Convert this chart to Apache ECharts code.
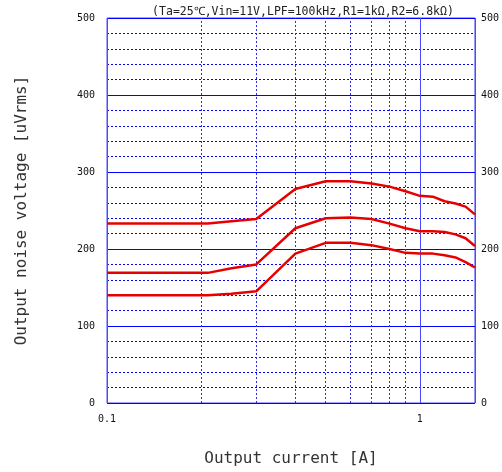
<!DOCTYPE html>
<html><head><meta charset="utf-8">
<script src="https://cdn.jsdelivr.net/npm/echarts@6/dist/echarts.min.js"></script>
<style>html,body{margin:0;padding:0;background:#fff}#c{width:502px;height:472px}</style>
</head><body><div id="c"></div>
<script>
const current = [0.1, 0.21, 0.25, 0.3, 0.4, 0.5, 0.6, 0.7, 0.8, 0.9, 1.0, 1.1, 1.2, 1.3, 1.4, 1.5];
const noiseTop = [233, 233, 236, 239, 278, 288, 288, 285, 281, 275, 269, 268, 262, 259, 255, 245];
const noiseMid = [169, 169, 175, 180, 227, 240, 241, 239, 233, 227, 223, 223, 222, 219, 214, 204];
const noiseLow = [140, 140, 142, 145, 194, 208, 208, 205, 200, 195, 194, 194, 192, 189, 183, 176];
const xMinorGrid = [0.2, 0.3, 0.4, 0.5, 0.6, 0.7, 0.8, 0.9];
const titleText = '(Ta=25℃,Vin=11V,LPF=100kHz,R1=1kΩ,R2=6.8kΩ)';

const mono = "'DejaVu Sans Mono', monospace";
const chart = echarts.init(document.getElementById('c'));
const pair = arr => current.map((x, i) => [x, arr[i]]);
const lineSeries = (arr, extra) => Object.assign({
  type: 'line', data: pair(arr), showSymbol: false, symbol: 'none', smooth: false,
  lineStyle: { color: '#e60000', width: 2.5 }, z: 5, silent: true
}, extra || {});

const yCommon = {
  type: 'value', min: 0, max: 500, interval: 100,
  axisTick: { show: false },
  axisLine: { show: false }
};
const minorStyle = { color: '#2a2aff', width: 1, type: [2, 2], opacity: 1 };

chart.setOption({
  animation: false,
  title: {
    text: titleText, left: 298, top: 1, textAlign: 'center',
    textStyle: { fontFamily: mono, fontSize: 11.5, fontWeight: 'normal', color: '#222' }
  },
  grid: { left: 107, right: 27, top: 18, bottom: 68, show: true, borderColor: '#4a4aff', borderWidth: 1 },
  xAxis: {
    type: 'log', logBase: 10, min: 0.1, max: 1.5,
    name: 'Output current [A]', nameLocation: 'middle', nameGap: 48,
    nameTextStyle: { fontFamily: mono, fontSize: 16, color: '#333' },
    axisLine: { show: false }, axisTick: { show: false },
    axisLabel: {
      fontFamily: mono, fontSize: 10, color: '#111', margin: 11,
      formatter: v => (Math.abs(v - 0.1) < 1e-6 ? '0.1' : (Math.abs(v - 1) < 1e-6 ? '1' : ''))
    },
    splitLine: { show: true, lineStyle: { color: '#4a4aff', width: 1 } }
  },
  yAxis: [
    Object.assign({}, yCommon, {
      position: 'left',
      name: 'Output noise voltage [uVrms]', nameLocation: 'middle', nameGap: 77, nameRotate: 90,
      nameTextStyle: { fontFamily: mono, fontSize: 16, color: '#333' },
      axisLabel: { fontFamily: mono, fontSize: 10, color: '#111', margin: 12 },
      splitLine: { show: true, lineStyle: { color: '#0000ff', width: 1 } },
      minorTick: { show: false, splitNumber: 5 },
      minorSplitLine: { show: true, lineStyle: { color: '#0000ff', width: 1, type: [2, 2] } }
    }),
    Object.assign({}, yCommon, {
      position: 'right',
      axisLabel: { fontFamily: mono, fontSize: 10, color: '#111', margin: 6 },
      splitLine: { show: false }
    })
  ],
  series: [
    lineSeries(noiseTop, {
      markLine: {
        silent: true, symbol: ['none', 'none'], label: { show: false },
        lineStyle: minorStyle,
        emphasis: { disabled: true },
        data: xMinorGrid.map(v => ({ xAxis: v, lineStyle: minorStyle }))
      }
    }),
    lineSeries(noiseMid),
    lineSeries(noiseLow)
  ]
});
</script></body></html>
